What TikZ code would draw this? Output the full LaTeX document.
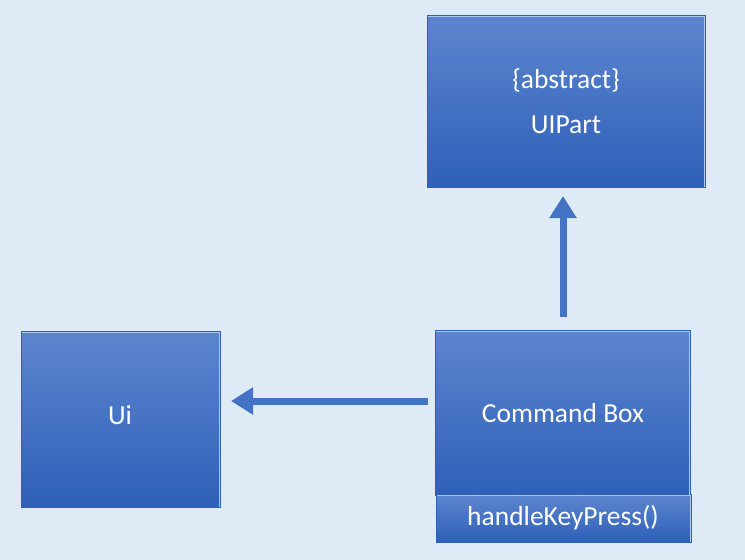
\documentclass[tikz,border=0pt]{standalone}
\usepackage{fontspec}
\setmainfont{Carlito}
\usetikzlibrary{arrows.meta}
\definecolor{bg}{RGB}{222,234,246}
\definecolor{boxtop}{RGB}{92,133,206}
\definecolor{boxbot}{RGB}{46,96,184}
\definecolor{arrowc}{RGB}{68,114,196}
\definecolor{edgehi}{RGB}{170,200,240}
\tikzset{
  umlbox/.style={rectangle, draw=boxbot, line width=0.8pt, top color=boxtop, bottom color=boxbot,
    inner sep=0pt, anchor=north west},
  lbl/.style={text=white, font=\fontsize{27.5}{32}\selectfont, inner sep=0pt},
  conn/.style={draw=arrowc, line width=7pt, -{Triangle[length=22pt,width=26pt]}}
}
\begin{document}
\begin{tikzpicture}[x=1pt,y=-1pt]
\useasboundingbox[fill=bg] (0,0) rectangle (745,560);
\node[umlbox, minimum width=278pt, minimum height=172pt] (uipart) at (427,15) {};
\node[lbl] (abs) at (566,80) {\{abstract\}};
\node[lbl] (uipartlbl) at (566,125) {UIPart};
\node[umlbox, minimum width=255pt, minimum height=165pt] (cmd) at (435,330) {};
\node[lbl] (cmdlbl) at (563,413) {Command Box};
\node[umlbox, minimum width=255pt, minimum height=48pt] (hkp) at (436,494) {};
\node[lbl] (hkplbl) at (563,518) {handleKeyPress()};
\node[umlbox, minimum width=199pt, minimum height=176pt] (ui) at (21,331) {};
\node[lbl] (uilbl) at (120,415) {Ui};
% bevel highlights
\foreach \b in {uipart,cmd,hkp,ui}{
  \draw[edgehi, line width=1.5pt] ([xshift=1pt,yshift=-1.5pt]\b.north west) -- ([xshift=-1pt,yshift=-1.5pt]\b.north east);
  \draw[edgehi, line width=1.5pt] ([xshift=-1.5pt,yshift=-1pt]\b.north east) -- ([xshift=-1.5pt,yshift=1pt]\b.south east);
}
\coordinate (a1s) at (428,401);
\coordinate (a1e) at (231,401);
\draw[conn] (a1s) -- (a1e);
\coordinate (a2s) at (563,317);
\coordinate (a2e) at (563,196);
\draw[conn] (a2s) -- (a2e);
\end{tikzpicture}
\end{document}
